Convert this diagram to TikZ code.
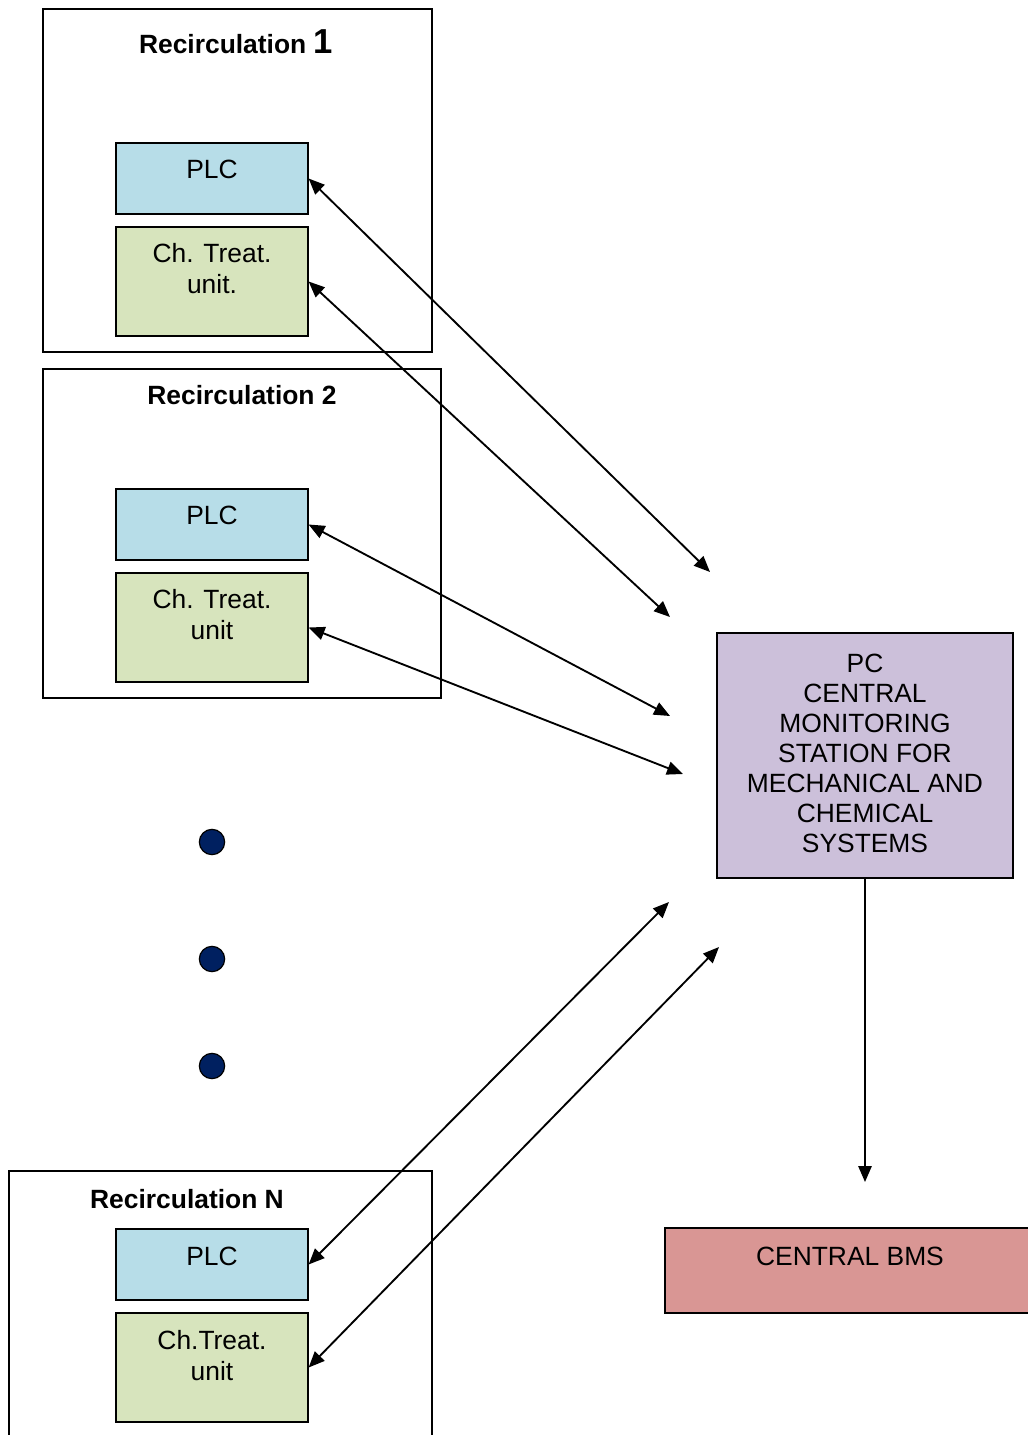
\documentclass[tikz,border=0pt]{standalone}
\usepackage{fontspec}
\setmainfont{Liberation Sans}
\usetikzlibrary{arrows.meta,fit}
\definecolor{plcblue}{HTML}{B7DDE8}
\definecolor{chgreen}{HTML}{D7E4BD}
\definecolor{pclilac}{HTML}{CCC0DA}
\definecolor{bmsred}{HTML}{D99694}
\definecolor{dotblue}{HTML}{002060}
\tikzstyle{every node}=[font=\fontsize{19.8}{23.2}\selectfont]

\begin{document}
\begin{tikzpicture}[x=0.75pt, y=-0.75pt,
        box/.style={draw, line width=0.9pt, inner sep=0pt},
        txt/.style={anchor=base, align=center, inner sep=0pt},
        title/.style={txt, font=\fontsize{19.8}{23}\selectfont\bfseries},
        dot/.style={circle, draw, line width=0.9pt, fill=dotblue, minimum size=19pt, inner sep=0pt},
        link/.style={<->, line width=1.4pt},
        >={Triangle[length=12pt, width=10pt]}]
        \useasboundingbox (0, 0) rectangle (1028, 1435);

        \node [box, fit={(43, 9) (432, 352)}] (recA) {};
        \node [box, fit={(43, 369) (441, 698)}] (recB) {};
        \node [box, fit={(9, 1171) (432, 1460)}] (recN) {};

        \node [title] (recAtitle) at (236, 53) {Recirculation {\fontsize{26}{26}\selectfont 1}};
        \node [title] (recBtitle) at (242, 404) {Recirculation 2};
        \node [title] (recNtitle) at (187, 1208) {Recirculation N};

        \node [box, fill=plcblue, fit={(116, 143) (308, 214)}] (plcA) {};
        \node [box, fill=chgreen, fit={(116, 227) (308, 336)}] (chA) {};
        \node [box, fill=plcblue, fit={(116, 489) (308, 560)}] (plcB) {};
        \node [box, fill=chgreen, fit={(116, 573) (308, 682)}] (chB) {};
        \node [box, fill=plcblue, fit={(116, 1229) (308, 1300)}] (plcN) {};
        \node [box, fill=chgreen, fit={(116, 1313) (308, 1422)}] (chN) {};

        % multi-line texts sit on the baseline of their last line
        \node [txt] (plcAtxt) at (212, 178) {PLC};
        \node [txt] (chAtxt) at (212, 293) {Ch. Treat.\\unit.};
        \node [txt] (plcBtxt) at (212, 524) {PLC};
        \node [txt] (chBtxt) at (212, 639) {Ch. Treat.\\unit};
        \node [txt] (plcNtxt) at (212, 1265) {PLC};
        \node [txt] (chNtxt) at (212, 1380) {Ch.Treat.\\unit};

        \node [dot] (dotA) at (212, 842) {};
        \node [dot] (dotB) at (212, 959) {};
        \node [dot] (dotC) at (212, 1066) {};

        \node [box, fill=pclilac, fit={(717, 633) (1013, 878)}] (pc) {};
        \node [txt, font=\fontsize{19.8}{22.5}\selectfont] (pctxt) at (865, 852) {PC\\CENTRAL\\MONITORING\\STATION FOR\\MECHANICAL AND\\CHEMICAL\\SYSTEMS};

        \node [box, fill=bmsred, fit={(665, 1228) (1045, 1313)}] (bms) {};
        \node [txt] (bmstxt) at (850, 1265) {CENTRAL BMS};

        \coordinate (endA) at (710, 572);
        \coordinate (endB) at (670, 617);
        \coordinate (endC) at (670, 716);
        \coordinate (endD) at (683, 774);
        \coordinate (endE) at (669, 902);
        \coordinate (endF) at (719, 947);
        \coordinate (bmsin) at (865, 1182);

        \draw [link] (plcA.east) -- (endA);
        \draw [link] (chA.east) -- (endB);
        \draw [link] (plcB.east) -- (endC);
        \draw [link] (chB.east) -- (endD);
        \draw [link] (plcN.east) -- (endE);
        \draw [link] (chN.east) -- (endF);

        \draw [->, line width=1.4pt] (pc.south) -- (bmsin);
    \end{tikzpicture}
\end{document}
